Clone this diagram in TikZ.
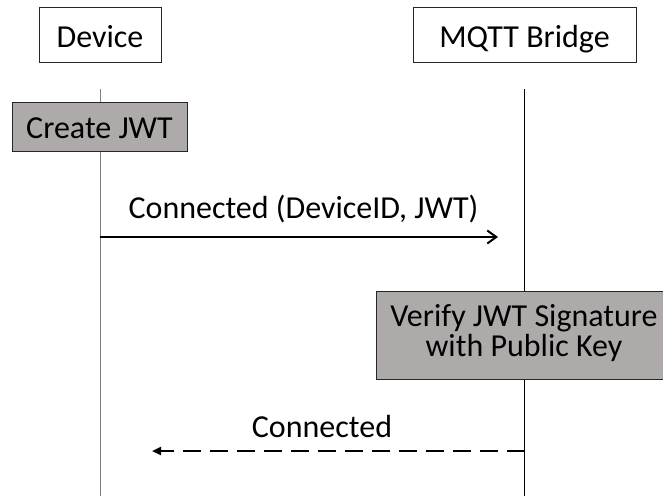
\documentclass[tikz,border=0pt]{standalone}
\usepackage{fontspec}
\setmainfont{Carlito}
\usetikzlibrary{arrows.meta}
\definecolor{boxgray}{HTML}{AEAAAA}
\definecolor{lifegray}{HTML}{7F7F7F}
\begin{document}
\begin{tikzpicture}[x=1pt,y=-1pt,
  every node/.style={font=\fontsize{32}{30}\selectfont, inner sep=0pt},
  actor/.style={draw=black!85, line width=0.9pt, fill=white, minimum height=55pt, text height=25pt, text depth=0pt},
  activity/.style={draw=black!85, line width=0.9pt, fill=boxgray, align=center},
  lifeline/.style={line width=1pt},
  msg/.style={line width=2.2pt},
  reply/.style={line width=2.2pt, dash pattern=on 18pt off 9pt}
]
\useasboundingbox (0,0) rectangle (663,496);
% actors
\node[actor, minimum width=122pt] (dev) at (100,34.5) {Device};
\node[actor, minimum width=223pt] (mqtt) at (524.5,34.5) {MQTT Bridge};
% lifelines
\coordinate (dtop) at (100,89);
\coordinate (dbot) at (100,496);
\coordinate (btop) at (524.5,89);
\coordinate (bbot) at (524.5,496);
\draw[lifeline, lifegray] (dtop) -- (dbot);
\draw[lifeline, black] (btop) -- (bbot);
% activities
\node[activity, minimum width=175pt, minimum height=49pt, text height=23pt, text depth=0pt] (cjwt) at (99.5,126.5) {Create JWT};
\node[activity, minimum width=296pt, minimum height=88pt] (verify) at (524,335) {};
\node[align=center] (verifytxt) at (524,333) {Verify JWT Signature\\with Public Key};
% message 1
\coordinate (m1s) at (dtop |- 0,237);
\coordinate (m1e) at (498,237);
\draw[msg, -{Straight Barb[length=9pt,width=13pt,line width=2pt]}] (m1s) -- (m1e);
\node[anchor=base] (m1lab) at (303.5,218) {Connected (DeviceID, JWT)};
% message 2
\coordinate (m2s) at (btop |- 0,451);
\coordinate (m2e) at (152,451);
\draw[reply, -{Triangle[length=9pt,width=8pt]}] (m2s) -- (m2e);
\node[anchor=base] (m2lab) at (322,437) {Connected};
\end{tikzpicture}
\end{document}
